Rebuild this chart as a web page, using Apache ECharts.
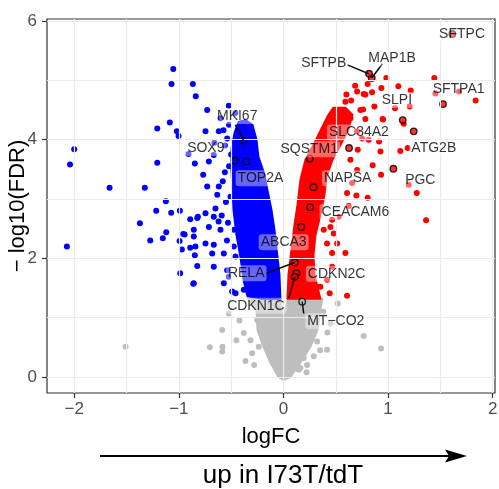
<!DOCTYPE html>
<html>
<head>
<meta charset="utf-8">
<script src="https://cdn.jsdelivr.net/npm/echarts@6/dist/echarts.min.js"></script>
<style>
  html, body { margin: 0; padding: 0; background: #fff; }
  #main { width: 499px; height: 489px; }
</style>
</head>
<body>
<div id="main"></div>
<script>
const FONT = '"Liberation Sans", Arial, Helvetica, sans-serif';

// axis ticks and grid lines
const xTicks = [-2, -1, 0, 1, 2];
const yTicks = [0, 2, 4, 6];
const xGrid = [-2, -1.5, -1, -0.5, 0, 0.5, 1, 1.5, 2];
const yGrid = [0, 1, 2, 3, 4, 5, 6];
const fdrCut = 1.3;

// outlines (logFC, -log10 FDR) of the densely overplotted cores
const blueCore = [[-0.363,4.33],[-0.296,4.25],[-0.258,4.00],[-0.239,3.71],[-0.181,3.41],[-0.153,3.15],[-0.115,2.82],[-0.086,2.48],[-0.057,2.02],[-0.038,1.72],[-0.029,1.32],[-0.201,1.32],[-0.344,1.36],[-0.382,1.64],[-0.411,2.02],[-0.449,2.39],[-0.478,2.82],[-0.487,3.15],[-0.497,3.49],[-0.497,3.83],[-0.468,4.11],[-0.430,4.30]];
const redCore = [[0.478,4.54],[0.592,4.54],[0.659,4.42],[0.621,4.17],[0.544,3.91],[0.468,3.66],[0.411,3.37],[0.392,3.07],[0.353,2.73],[0.306,2.39],[0.287,2.06],[0.296,1.72],[0.353,1.32],[0.038,1.32],[0.048,1.72],[0.076,2.14],[0.105,2.56],[0.134,2.90],[0.162,3.32],[0.210,3.66],[0.287,3.91],[0.372,4.22],[0.430,4.42]];
const greyCore = [[-0.344,1.32],[-0.029,1.32],[0.0,0.98],[0.038,1.32],[0.372,1.32],[0.353,1.13],[0.325,0.79],[0.258,0.51],[0.162,0.24],[0.067,0.0],[0.0,-0.05],[-0.048,0.0],[-0.124,0.24],[-0.191,0.51],[-0.248,0.79],[-0.258,1.13]];

// individual genes outside the cores
const bluePoints = [[-1.053,5.19],[-1.07,4.94],[-0.866,4.94],[-0.838,4.73],[-1.086,4.29],[-1.206,4.19],[-1.019,4.14],[-1.003,4.06],[-2.0,3.84],[-2.04,3.58],[-0.907,3.76],[-1.206,3.61],[-0.847,3.60],[-1.662,3.19],[-1.325,3.19],[-1.124,2.96],[-1.216,2.80],[-1.073,2.77],[-0.990,2.80],[-0.818,2.70],[-0.891,2.66],[-1.372,2.59],[-0.857,2.48],[-1.12,2.44],[-0.958,2.41],[-0.945,2.40],[-1.153,2.34],[-1.273,2.30],[-0.993,2.29],[-2.07,2.20],[-0.891,2.18],[-0.971,2.15],[-0.847,2.05],[-0.824,1.87],[-0.987,1.75],[-0.862,1.57],
  [-0.729,4.50],[-0.522,4.57],[-0.602,4.36],[-0.745,4.14],[-0.618,4.14],[-0.573,4.16],[-0.538,4.02],[-0.475,3.88],[-0.666,3.74],[-0.713,3.63],[-0.767,3.41],[-0.729,3.21],[-0.618,3.21],[-0.633,3.07],[-0.506,3.04],[-0.650,2.84],[-0.745,2.76],[-0.824,2.68],[-0.666,2.70],[-0.713,2.53],[-0.602,2.48],[-0.475,2.48],[-0.857,2.37],[-0.745,2.25],[-0.666,2.23],[-0.841,2.20],[-0.475,2.20],[-0.570,2.08],[-0.681,2.08],[-0.458,2.03],
  [-0.538,1.80],[-0.522,1.69],[-0.857,1.58],[-0.570,1.58],[-0.490,1.44],[-0.458,1.41],[-0.379,1.47],[-0.666,1.86],
  [-0.56,3.45],[-0.58,3.30],[-0.55,2.95],[-0.59,2.72],[-0.53,2.60],[-0.54,2.30],[-0.62,2.62],[-0.52,3.55],[-0.50,3.75],[-0.56,3.90],[-0.66,3.95],[-0.52,4.25],[-0.46,4.45]];
const redPoints = [[0.984,5.04],[0.805,4.94],[0.685,4.91],[0.704,4.81],[0.602,4.76],[0.647,4.66],[0.783,4.76],[0.847,4.80],[1.098,4.90],[1.216,4.83],[0.869,4.56],[0.735,4.50],[0.783,4.35],[0.640,4.36],[0.948,4.35],[1.066,4.53],[1.149,4.27],[0.710,3.83],[0.927,3.80],[1.117,3.81],[0.853,3.57],[0.933,3.41],[0.697,3.06],[0.805,3.02],[0.608,3.10],[0.465,2.65],
  [1.442,5.04],[1.678,4.81],[1.837,4.66],[1.452,4.78],[1.187,3.86],[1.274,3.10],[1.363,2.64],[1.197,3.24],[1.206,4.56],[0.936,4.87],[0.767,4.77],[0.761,4.51],[0.952,4.34],[0.442,1.41],[0.608,1.37],[0.353,1.52],
  [0.592,4.64],[0.815,4.00],[0.704,4.14],[0.752,4.02],[0.914,3.97],[0.704,3.49],[0.656,3.27],[0.624,2.88],[0.528,2.70],[0.449,2.53],[0.481,2.42],[0.640,3.66],
  [0.417,2.25],[0.465,2.09],[0.592,2.09],[0.465,1.86],[0.417,1.64],[0.322,1.52],[0.513,2.25],[0.385,2.48]];
const greyPoints = [[-1.509,0.51],[-0.583,0.51],[0.933,0.48],[0.519,1.24],[0.767,0.69],[0.322,0.60],[0.417,0.46],[0.194,0.32],[0.162,0.15],[-0.363,0.27],[-0.299,0.40],[-0.379,0.74],[-0.585,0.79],[-0.585,0.43],[-0.251,0.96],[-0.522,1.07],[-0.704,0.50],[-0.315,0.62],[-0.236,0.51],[0.226,0.20],[0.29,0.35],[0.146,0.12],[0.274,0.85],[0.45,0.9],[0.38,1.1],[-0.45,0.62],[-0.42,0.95],[0.42,0.75],[0.35,0.45],[-0.28,0.2],[0.22,0.08]];

// highlighted genes
const genes    = ['SFTPC','MAP1B','SFTPB','SFTPA1','SLPI','MKI67','SLC34A2','SOX9','SQSTM1','ATG2B','TOP2A','NAPSA','PGC','CEACAM6','ABCA3','RELA','CDKN2C','CDKN1C','MT\u2212CO2'];
const geneFC   = [1.614,0.844,0.818,1.525,1.140,-0.379,0.627,-0.465,0.252,1.245,-0.353,0.287,1.051,0.255,0.169,0.108,0.124,0.108,0.179];
const geneFDR  = [5.78,5.04,5.11,4.60,4.33,3.98,3.86,3.65,3.68,4.14,3.63,3.20,3.51,2.86,2.53,1.93,1.75,1.69,1.27];
const labelFC  = [1.707,1.038,0.385,1.674,1.084,-0.442,0.721,-0.742,0.246,1.437,-0.220,0.614,1.308,0.688,0.002,-0.356,0.508,-0.263,0.500];
const labelFDR = [5.78,5.37,5.29,4.85,4.67,4.40,4.12,3.86,3.84,3.86,3.35,3.35,3.32,2.78,2.27,1.75,1.74,1.20,0.94];
// label-to-point segments (start point), null = no segment
const segFC    = [null,0.946,0.611,null,null,-0.459,null,null,null,null,null,null,null,null,null,-0.162,null,0.051,0.194];
const segFDR   = [null,5.28,5.26,null,null,4.25,null,null,null,null,null,null,null,null,null,1.75,null,1.33,1.07];

const chart = echarts.init(document.getElementById('main'));

function minusFmt(v) {
  return v < 0 ? '\u2212' + Math.abs(v) : String(v);
}

function geneColour(fc, fdr) {
  if (fdr < fdrCut) return '#bebebe';
  return fc < 0 ? '#0000ff' : '#ff0000';
}

function blob(outline, colour) {
  return {
    type: 'custom',
    silent: true,
    clip: true,
    z: 2,
    data: [[0, 0]],
    renderItem: function (params, api) {
      return {
        type: 'polygon',
        shape: { points: outline.map(p => api.coord(p)) },
        style: { fill: colour, stroke: colour, lineWidth: 2, lineJoin: 'round' }
      };
    }
  };
}

function dots(points, colour) {
  return {
    type: 'scatter',
    silent: true,
    z: 3,
    symbol: 'circle',
    symbolSize: 6,
    itemStyle: { color: colour, opacity: 1 },
    data: points
  };
}

const segData = [];
genes.forEach((g, i) => {
  if (segFC[i] !== null) segData.push([segFC[i], segFDR[i], geneFC[i], geneFDR[i]]);
});

const option = {
  animation: false,
  textStyle: { fontFamily: FONT },
  grid: {
    left: 47, right: 4, top: 19, bottom: 96,
    containLabel: false,
    outerBoundsMode: 'none',
    show: true, borderColor: '#333333', borderWidth: 1.2
  },
  xAxis: {
    type: 'value',
    min: -2.26, max: 2.022,
    name: 'logFC',
    nameLocation: 'middle',
    nameGap: 33,
    nameMoveOverlap: false,
    nameTextStyle: { fontSize: 22, color: '#000', fontFamily: FONT },
    axisLine: { show: false, onZero: false },
    splitLine: { show: false },
    axisTick: { show: true, customValues: xTicks, length: 5, lineStyle: { color: '#333333', width: 1.2 } },
    axisLabel: { customValues: xTicks, formatter: minusFmt, color: '#4d4d4d', fontSize: 17, margin: 8, fontFamily: FONT }
  },
  yAxis: {
    type: 'value',
    min: -0.27, max: 6.034,
    name: '\u2212 log10(FDR)',
    nameLocation: 'middle',
    nameGap: 18,
    nameRotate: 90,
    nameMoveOverlap: false,
    nameTextStyle: { fontSize: 22, color: '#000', fontFamily: FONT },
    axisLine: { show: false, onZero: false },
    splitLine: { show: false },
    axisTick: { show: true, customValues: yTicks, length: 5, lineStyle: { color: '#333333', width: 1.2 } },
    axisLabel: { customValues: yTicks, formatter: minusFmt, color: '#4d4d4d', fontSize: 17, margin: 10, fontFamily: FONT }
  },
  series: [
    {
      // grid lines
      type: 'scatter',
      silent: true,
      z: 1,
      data: [],
      markLine: {
        silent: true,
        symbol: 'none',
        animation: false,
        label: { show: false },
        lineStyle: { color: '#ebebeb', width: 1.2, type: 'solid' },
        data: xGrid.map(v => ({ xAxis: v })).concat(yGrid.map(v => ({ yAxis: v })))
      }
    },
    blob(greyCore, '#bebebe'),
    blob(blueCore, '#0000ff'),
    blob(redCore, '#ff0000'),
    dots(greyPoints, '#bebebe'),
    dots(bluePoints, '#0000ff'),
    dots(redPoints, '#ff0000'),
    {
      // highlighted genes, ringed in black
      type: 'scatter',
      silent: true,
      z: 4,
      symbol: 'circle',
      symbolSize: 6.5,
      data: genes.map((g, i) => ({
        value: [geneFC[i], geneFDR[i]],
        itemStyle: { color: geneColour(geneFC[i], geneFDR[i]), borderColor: '#000', borderWidth: 1.4 }
      }))
    },
    {
      type: 'custom',
      silent: true,
      z: 5,
      data: segData,
      renderItem: function (params, api) {
        const a = api.coord([api.value(0), api.value(1)]);
        const b = api.coord([api.value(2), api.value(3)]);
        return {
          type: 'line',
          shape: { x1: a[0], y1: a[1], x2: b[0], y2: b[1] },
          style: { stroke: '#000', lineWidth: 1.4 }
        };
      }
    },
    {
      type: 'scatter',
      silent: true,
      z: 6,
      symbol: 'circle',
      symbolSize: 1,
      itemStyle: { color: 'rgba(0,0,0,0)' },
      data: genes.map((g, i) => ({ name: g, value: [labelFC[i], labelFDR[i]] })),
      label: {
        show: true,
        position: 'inside',
        formatter: '{b}',
        fontSize: 14,
        color: '#000',
        fontFamily: FONT,
        backgroundColor: 'rgba(255,255,255,0.5)',
        borderRadius: 3,
        padding: [1, 2]
      }
    }
  ],
  graphic: [
    { type: 'line', shape: { x1: 100, y1: 456, x2: 452, y2: 456 }, style: { stroke: '#000', lineWidth: 2 } },
    { type: 'polygon', shape: { points: [[445, 449.5], [467, 456], [445, 462.5], [449, 456]] }, style: { fill: '#000' } },
    {
      type: 'text', x: 283, y: 476,
      style: { text: 'up in I73T/tdT', fontSize: 26, fontFamily: FONT, fill: '#000', align: 'center', verticalAlign: 'middle' }
    }
  ]
};

chart.setOption(option);
</script>
</body>
</html>
